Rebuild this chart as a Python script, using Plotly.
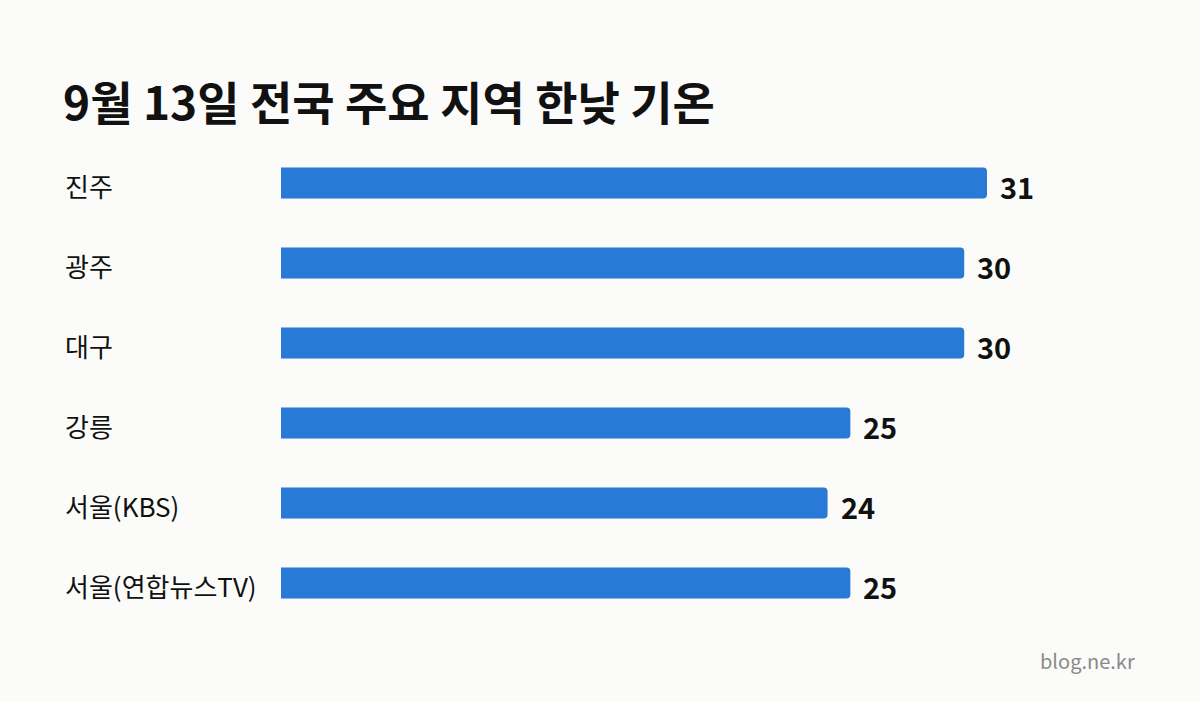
import plotly.graph_objects as go

categories = ["진주", "광주", "대구", "강릉", "서울(KBS)", "서울(연합뉴스TV)"]
values = [31, 30, 30, 25, 24, 25]
title_text = "9월 13일 전국 주요 지역 한낮 기온"
source_text = "blog.ne.kr"

W, H = 1200, 702
left, right_px = 281, 1140
top, bottom_px = 143, 623
PW, PH = right_px - left, bottom_px - top
unit = (987 - 281) / 31.0
xmax = PW / unit

BG = "#FBFBF9"
BAR = "#2979D6"
FONT = "Noto Sans CJK KR"


def px_x(px):
    return (px - left) / PW


def px_y(py):
    return (bottom_px - py) / PH


fig = go.Figure()
fig.add_trace(go.Bar(
    x=values, y=categories, orientation="h",
    marker=dict(color=BAR, line=dict(width=0)),
    width=0.39, hoverinfo="skip",
))

for c, v in zip(categories, values):
    fig.add_annotation(x=v, y=c, xref="x", yref="y", text=f"<b>{v}</b>",
                       showarrow=False, xanchor="left", yanchor="middle",
                       xshift=11, yshift=-3,
                       font=dict(family=FONT, size=29, color="#111111"))
    fig.add_annotation(x=px_x(63), y=c, xref="paper", yref="y",
                       text=c, showarrow=False, xanchor="left", yanchor="middle",
                       yshift=-2, font=dict(family=FONT, size=26, color="#111111"))

fig.add_annotation(x=px_x(61), y=px_y(100), xref="paper", yref="paper",
                   text=f"<b>{title_text}</b>", showarrow=False, xanchor="left",
                   yanchor="middle", font=dict(family=FONT, size=46, color="#111111"))
fig.add_annotation(x=px_x(1137), y=px_y(660), xref="paper", yref="paper",
                   text=source_text, showarrow=False, xanchor="right", yanchor="middle",
                   font=dict(family=FONT, size=20, color="#8a8a8a"))

fig.update_layout(
    width=W, height=H,
    paper_bgcolor=BG, plot_bgcolor=BG,
    margin=dict(l=left, r=W - right_px, t=top, b=H - bottom_px, pad=0),
    showlegend=False,
    barcornerradius=4,
    xaxis=dict(range=[0, xmax], visible=False, fixedrange=True),
    yaxis=dict(autorange=False, range=[len(categories) - 0.5, -0.5],
               showticklabels=False, showgrid=False, zeroline=False,
               showline=False, ticks="", fixedrange=True),
)

fig.write_html("out.html", config={"displayModeBar": False},
               post_script="document.body.style.margin='0';document.body.style.overflow='hidden';")
